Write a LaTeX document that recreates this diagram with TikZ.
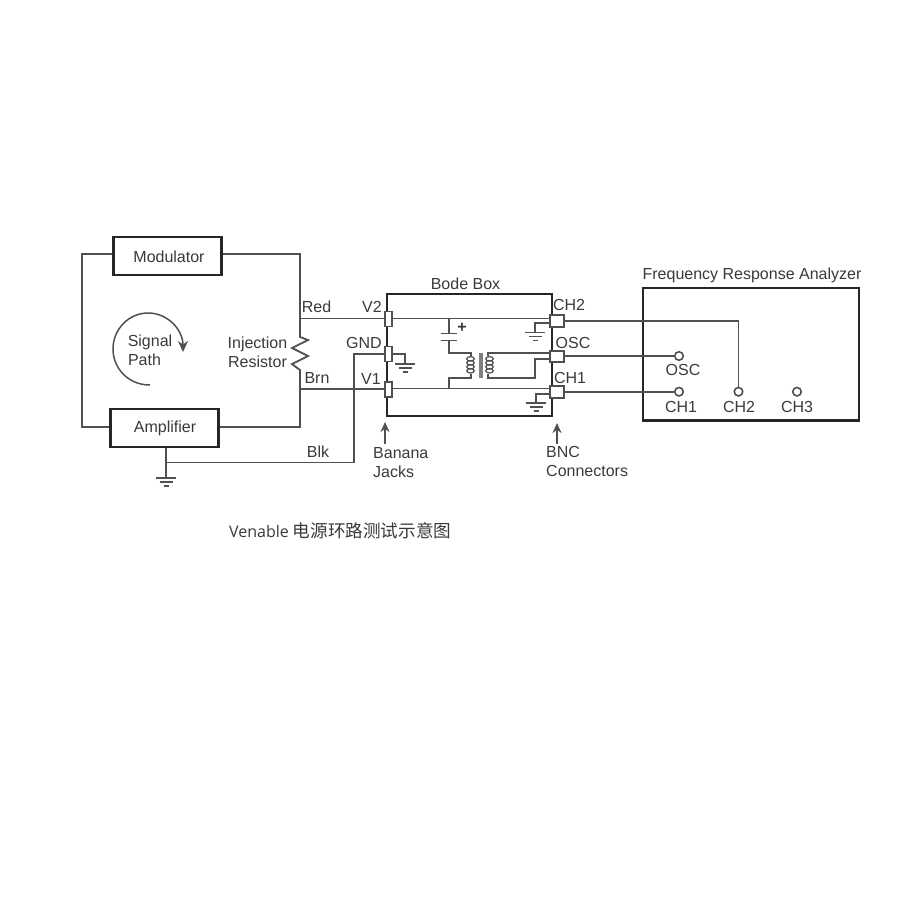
\documentclass[tikz,border=0pt]{standalone}
\usepackage{fontspec}
\setmainfont{Liberation Sans}
\newfontfamily\capfont{Open Sans}
\newfontfamily\cjkfont{Noto Sans CJK SC}
\usetikzlibrary{arrows.meta}
\definecolor{wirec}{HTML}{505050}
\definecolor{textc}{HTML}{3a3a3a}
\tikzset{
  x=1pt,y=-1pt,
  wire/.style={draw=wirec,line width=1.8pt},
  bigbox/.style={draw=black!85,line width=2.8pt,fill=white,inner sep=0pt},
  frame/.style={draw=black!85,line width=2.6pt},
  jack/.style={draw=wirec,line width=1.7pt,fill=white,inner sep=0pt,minimum width=7.5pt,minimum height=15pt},
  bnc/.style={draw=wirec,line width=1.7pt,fill=white,inner sep=0pt,minimum width=14pt,minimum height=11.5pt},
  port/.style={circle,draw=wirec,line width=1.6pt,fill=white,inner sep=0pt,minimum size=8.5pt},
  lab/.style={text=textc,font=\fontsize{16}{18}\selectfont,inner sep=0pt},
  labl/.style={lab,anchor=west},
  tip/.style={wire,-{Stealth[length=10pt,width=9pt]}},
}
\newcommand{\gnd}[2]{%
  \draw[wire] (#1-10,#2) -- (#1+10,#2) (#1-6.5,#2+4) -- (#1+6.5,#2+4) (#1-2.5,#2+8) -- (#1+2.5,#2+8);}
\begin{document}
\begin{tikzpicture}
\useasboundingbox (0,0) rectangle (900,900);
\fill[white] (0,0) rectangle (900,900);

\coordinate (tl) at (82,254);
\coordinate (bl) at (82,427);
\coordinate (tr) at (300,254);
\coordinate (br) at (300,427);
\coordinate (rtop) at (300,337);
\coordinate (rbot) at (300,370);
\coordinate (redj) at (300,318.5);
\coordinate (brnj) at (300,389);
\coordinate (blkup) at (354,354);
\coordinate (blkdn) at (354,462.5);
\coordinate (gj) at (166,462.5);
\coordinate (g1) at (166,477);

\draw[wire] (tl) -- (tr) -- (rtop) -- (308,340) -- (292,348) -- (308,356) -- (292,364) -- (rbot) -- (br) -- (bl) -- cycle;

\node[bigbox,minimum width=108pt,minimum height=38pt] (mod) at (167.2,256) {};
\node[bigbox,minimum width=108pt,minimum height=38pt] (amp) at (164.8,428) {};
\node[lab] (modt) at (169,256.5) {Modulator};
\node[lab] (ampt) at (165,428) {Amplifier};

\draw[wire] (amp.south -| gj) -- (g1);
\draw[wire] (gj) -- (blkdn) -- (blkup) -- (385,354);
\gnd{166}{478}

\draw[frame] (387,294) rectangle (552,416);
\node[jack] (v2) at (388.5,319) {};
\node[jack] (gndj) at (388.5,354) {};
\node[jack] (v1) at (388.5,389.5) {};
\node[bnc] (ch2) at (557,321) {};
\node[bnc] (osc) at (557,356.5) {};
\node[bnc] (ch1) at (557,392) {};

\draw[wire] (redj) -- (v2.west |- redj);
\draw[wire] (brnj) -- (v1.west |- brnj);
\draw[wire] (v2.east |- 0,318.5) -- (ch2.west |- 0,318.5);
\draw[wire] (v1.east |- 0,388.5) -- (ch1.west |- 0,388.5);

\draw[wire] (449,318.5) -- (449,333.5);
\draw[wire] (441,333.5) -- (457,333.5);
\draw[wire] (441,340.5) -- (457,340.5);
\draw[wire] (449,340.5) -- (449,352.7) -- (471,352.7) -- (471,356);
\draw[wire] (449,388.5) -- (449,377.7) -- (471,377.7) -- (471,374);
\node[lab] (plus) at (462,328) {\textbf{+}};

\fill[black!50] (478.5,352.7) rectangle (482.5,377.7);
\foreach \yy in {358,362,366,370}{
  \draw[wirec,line width=1.2pt] (470.5,\yy+0.8) ellipse [x radius=3.8,y radius=2.2];
  \draw[wirec,line width=1.2pt] (489.5,\yy+0.8) ellipse [x radius=3.8,y radius=2.2];
}
\draw[wire] (488,356) -- (488,352.7) -- (osc.west |- 0,352.7);
\draw[wire] (488,374) -- (488,377.7) -- (535,377.7) -- (535,359.3) -- (osc.west |- 0,359.3);

\draw[wire] (gndj.east |- 0,354) -- (405,354) -- (405,364);
\gnd{405}{364}
\draw[wire] (ch2.west |- 0,323.3) -- (535,323.3) -- (535,332.5);
\gnd{535}{332.5}
\draw[wire] (ch1.west |- 0,394) -- (536,394) -- (536,403);
\gnd{536}{403}

\draw[frame] (643,288) rectangle (859,420.7);
\node[port] (posc) at (679,356) {};
\node[port] (pch1) at (679,391.7) {};
\node[port] (pch2) at (738.5,391.7) {};
\node[port] (pch3) at (797,391.7) {};
\draw[wire] (ch2.east |- 0,321) -- (738.5,321) -- (pch2.north);
\draw[wire] (osc.east |- posc) -- (posc.west);
\draw[wire] (ch1.east |- pch1) -- (pch1.west);

\draw[wirec,line width=1.5pt,-{Stealth[length=11pt,width=10pt]}] (150,385) .. controls (128,385) and (113,368) .. (113,349) .. controls (113,329) and (129,313) .. (148,313) .. controls (168,313) and (183,330) .. (183,352);

\coordinate (ba) at (385,444);
\coordinate (bb) at (385,422);
\coordinate (ca) at (557,444);
\coordinate (cb) at (557,423);
\draw[tip] (ba) -- (bb);
\draw[tip] (ca) -- (cb);

\node[lab] (l1) at (150,342.5) {Signal};
\node[lab] (l2) at (144.5,360) {Path};
\node[lab] (l3) at (257.5,344) {Injection};
\node[lab] (l4) at (257.5,361.5) {Resistor};
\node[lab] (l5) at (316.5,307) {Red};
\node[lab] (l6) at (317,378) {Brn};
\node[lab] (l7) at (318,452) {Blk};
\node[lab] (l8) at (372,307) {V2};
\node[lab] (l9) at (364,343) {GND};
\node[lab] (l10) at (371,379) {V1};
\node[lab] (l11) at (465.5,284) {Bode Box};
\node[lab] (l12) at (569,305) {CH2};
\node[lab] (l13) at (573,343) {OSC};
\node[lab] (l14) at (570,378) {CH1};
\node[lab] (l15) at (752,275) {Frequency Response Analyzer};
\node[lab] (l16) at (683,370) {OSC};
\node[lab] (l17) at (681,406.5) {CH1};
\node[lab] (l18) at (739,406.5) {CH2};
\node[lab] (l19) at (797,406.5) {CH3};
\node[labl] (l20) at (373,453.5) {Banana};
\node[labl] (l21) at (373,471.5) {Jacks};
\node[labl] (l22) at (546,452) {BNC};
\node[labl] (l23) at (546,470.5) {Connectors};
\node[anchor=west,inner sep=0pt,text=textc] (cap) at (229,531) {{\capfont\fontsize{16}{20}\selectfont Venable}\hspace{4pt}{\cjkfont\fontsize{17.6}{20}\selectfont 电源环路测试示意图}};
\end{tikzpicture}
\end{document}
